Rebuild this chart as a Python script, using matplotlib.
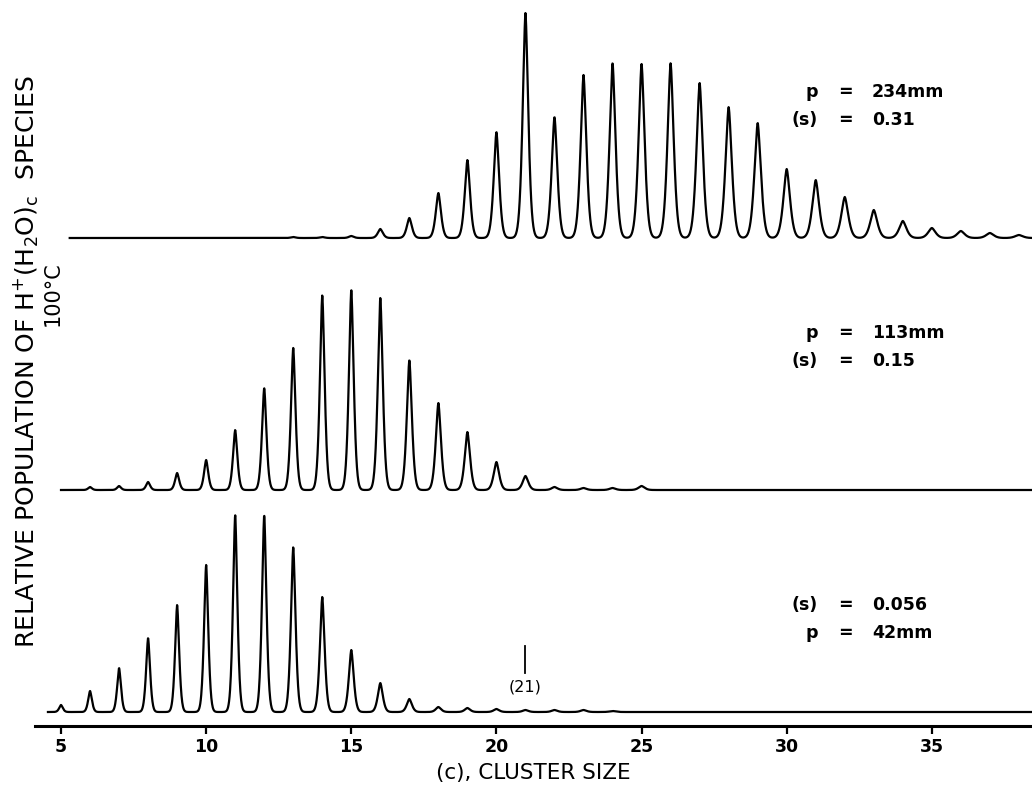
import numpy as np
import matplotlib
matplotlib.use("Agg")
import matplotlib.pyplot as plt

matplotlib.rc('font', family='DejaVu Sans')
matplotlib.rc('mathtext', default='regular')

# Peak heights (arbitrary units) per cluster size.
TOP_SIZES = list(range(13, 39))
TOP_HEIGHTS = [1, 1, 2, 9, 20, 45, 78, 106, 225, 121,
               163, 175, 174, 175, 155, 131, 115, 69, 58, 41,
               28, 17, 10, 7, 5, 3]

MID_SIZES = list(range(6, 26))
MID_HEIGHTS = [3, 4, 8, 17, 30, 60, 102, 142, 195, 200,
               192, 130, 87, 58, 28, 14, 3, 2, 2, 4]

LOW_SIZES = list(range(5, 25))
LOW_HEIGHTS = [7, 21, 44, 74, 107, 147, 197, 197, 165, 115,
               62, 29, 13, 5, 4, 3, 2, 2, 2, 1]

TOP_LABELS = [("p", "234mm"), ("(s)", "0.31")]
MID_LABELS = [("p", "113mm"), ("(s)", "0.15")]
LOW_LABELS = [("(s)", "0.056"), ("p", "42mm")]

XTICKS = [5, 10, 15, 20, 25, 30, 35]

# layout: baseline of each trace, where it starts, text row position
TRACES = [
    (TOP_SIZES, TOP_HEIGHTS, 488, 5.3, TOP_LABELS, 634),
    (MID_SIZES, MID_HEIGHTS, 236, 5.0, MID_LABELS, 393),
    (LOW_SIZES, LOW_HEIGHTS, 14, 4.55, LOW_LABELS, 121),
]


def spectrum(x, sizes, heights):
    y = np.zeros_like(x)
    for c, h in zip(sizes, heights):
        w = 0.075 + 0.003 * c
        y += h * np.exp(-(np.abs(x - c) / w) ** 1.6)
    return y


fig = plt.figure(figsize=(10.32, 7.9), dpi=100)
ax = fig.add_axes([35 / 1032, 64 / 790, 1 - 35 / 1032, 1 - 64 / 790])
ax.set_xlim(4.104, 38.45)
ax.set_ylim(0, 726)

for sizes, heights, base, start, labels, ytxt in TRACES:
    x = np.linspace(start, 38.5, 4000)
    ax.plot(x, base + spectrum(x, sizes, heights), color='black', lw=1.6,
            clip_on=False)
    for i, (name, val) in enumerate(labels):
        yy = ytxt - i * 28
        ax.text(31.08, yy, name, ha='right', va='center', fontsize=12.5,
                fontweight='bold')
        ax.text(32.04, yy, "=", ha='center', va='center', fontsize=12.5,
                fontweight='bold')
        ax.text(32.94, yy, val, ha='left', va='center', fontsize=12.5,
                fontweight='bold')

# marker for cluster 21 in the low pressure trace
ax.plot([21, 21], [53, 80], color='black', lw=1.3)
ax.text(21, 39, "(21)", ha='center', va='center', fontsize=11.5)

for s in ['top', 'right', 'left']:
    ax.spines[s].set_visible(False)
ax.spines['bottom'].set_linewidth(2.2)
ax.set_yticks([])
ax.set_xticks(XTICKS)
ax.set_xticklabels([str(t) for t in XTICKS], fontsize=12.5, fontweight='bold')
ax.tick_params(axis='x', direction='out', length=6, width=1.6, pad=3)
ax.set_xlabel("(c), CLUSTER SIZE", fontsize=15.5, labelpad=5)

fig.text(26 / 1032, 1 - 362 / 790,
         r"RELATIVE POPULATION OF H$^{+}$(H$_2$O)$_c$  SPECIES",
         rotation=90, ha='center', va='center', fontsize=18)
fig.text(53 / 1032, 1 - 294 / 790, "100°C", rotation=90,
         ha='center', va='center', fontsize=15)

fig.savefig("out.png", dpi=100)
